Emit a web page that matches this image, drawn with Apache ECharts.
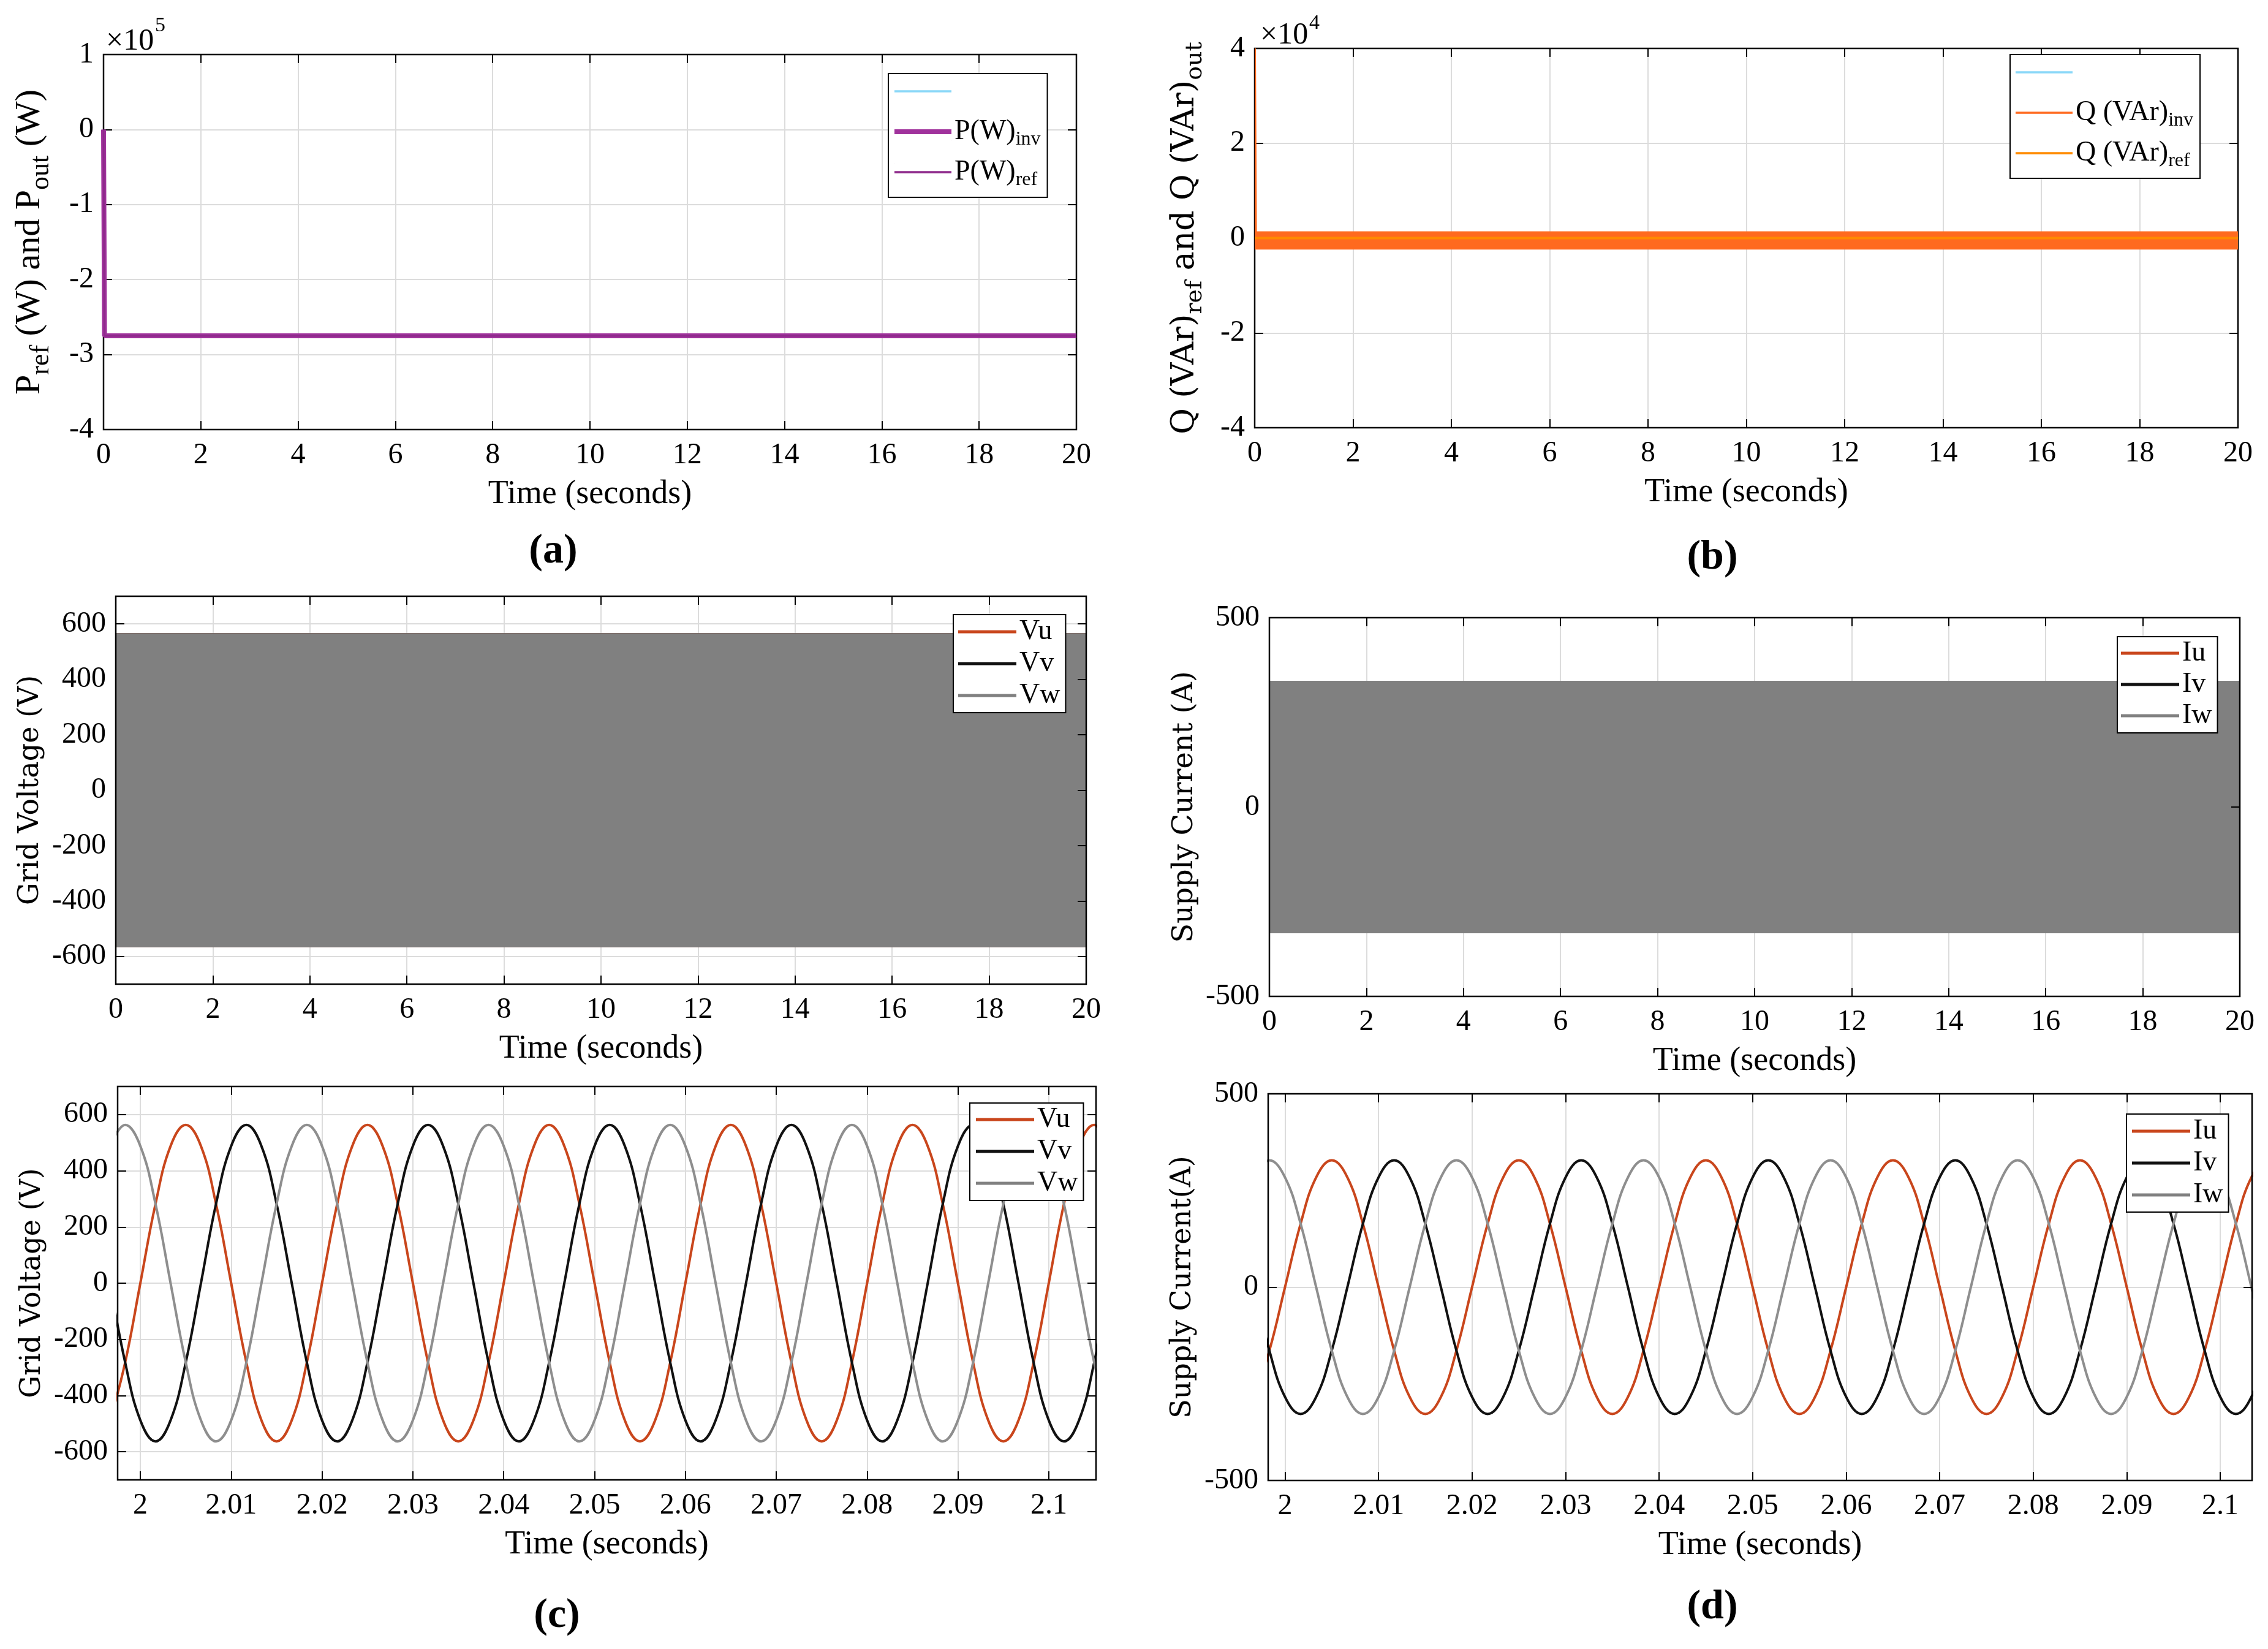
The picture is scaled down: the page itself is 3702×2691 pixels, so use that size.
<!DOCTYPE html>
<html>
<head>
<meta charset="UTF-8">
<title>Inverter power, grid voltage and supply current</title>
<script src="https://cdn.jsdelivr.net/npm/echarts@6/dist/echarts.min.js"></script>
<style>
  html, body { margin: 0; padding: 0; background: #fff; }
  #chart { width: 3702px; height: 2691px; }
</style>
</head>
<body>
<div id="chart"></div>
<script>
// (a) active power, W
var pTime = [0, 0.02, 20];
var pBlank = [0, -275000, -275000];
var pInv = [0, -275000, -275000];
var pRef = [0, -275000, -275000];

// (b) reactive power, VAr (inverter output is a thin noisy band)
var qTime = [0, 0.02, 20];
var qBlank = [0, 0, 0];
var qInvUpper = [40000, 1150, 1150];
var qInvLower = [40000, -2150, -2150];
var qRef = [0, 0, 0];

// 0-20 s views: envelope of the 50 Hz phases
var bandTime = [0, 20];
var vUpper = [562, 562];
var vLower = [-562, -562];
var iUpper = [330, 330];
var iLower = [-330, -330];

// zoomed views around 2.0-2.1 s, read every 30 degrees
var tWave = [1.99667, 1.99833, 2.00000, 2.00167, 2.00333, 2.00500, 2.00667, 2.00833, 2.01000, 2.01167,
             2.01333, 2.01500, 2.01667, 2.01833, 2.02000, 2.02167, 2.02333, 2.02500, 2.02667, 2.02833,
             2.03000, 2.03167, 2.03333, 2.03500, 2.03667, 2.03833, 2.04000, 2.04167, 2.04333, 2.04500,
             2.04667, 2.04833, 2.05000, 2.05167, 2.05333, 2.05500, 2.05667, 2.05833, 2.06000, 2.06167,
             2.06333, 2.06500, 2.06667, 2.06833, 2.07000, 2.07167, 2.07333, 2.07500, 2.07667, 2.07833,
             2.08000, 2.08167, 2.08333, 2.08500, 2.08667, 2.08833, 2.09000, 2.09167, 2.09333, 2.09500,
             2.09667, 2.09833, 2.10000, 2.10167, 2.10333, 2.10500, 2.10667];
var vu = [-488, -282, 0, 282, 488, 563, 488, 282, 0, -282, -488, -563,
          -488, -282, 0, 282, 488, 563, 488, 282, 0, -282, -488, -563,
          -488, -282, 0, 282, 488, 563, 488, 282, 0, -282, -488, -563,
          -488, -282, 0, 282, 488, 563, 488, 282, 0, -282, -488, -563,
          -488, -282, 0, 282, 488, 563, 488, 282, 0, -282, -488, -563,
          -488, -282, 0, 282, 488, 563, 488];
var vv = [0, -282, -488, -563, -488, -282, 0, 282, 488, 563, 488, 282,
          0, -282, -488, -563, -488, -282, 0, 282, 488, 563, 488, 282,
          0, -282, -488, -563, -488, -282, 0, 282, 488, 563, 488, 282,
          0, -282, -488, -563, -488, -282, 0, 282, 488, 563, 488, 282,
          0, -282, -488, -563, -488, -282, 0, 282, 488, 563, 488, 282,
          0, -282, -488, -563, -488, -282, 0];
var vw = [488, 563, 488, 282, 0, -282, -488, -563, -488, -282, 0, 282,
          488, 563, 488, 282, 0, -282, -488, -563, -488, -282, 0, 282,
          488, 563, 488, 282, 0, -282, -488, -563, -488, -282, 0, 282,
          488, 563, 488, 282, 0, -282, -488, -563, -488, -282, 0, 282,
          488, 563, 488, 282, 0, -282, -488, -563, -488, -282, 0, 282,
          488, 563, 488, 282, 0, -282, -488];
var iu = [-284, -164, 0, 164, 284, 328, 284, 164, 0, -164, -284, -328,
          -284, -164, 0, 164, 284, 328, 284, 164, 0, -164, -284, -328,
          -284, -164, 0, 164, 284, 328, 284, 164, 0, -164, -284, -328,
          -284, -164, 0, 164, 284, 328, 284, 164, 0, -164, -284, -328,
          -284, -164, 0, 164, 284, 328, 284, 164, 0, -164, -284, -328,
          -284, -164, 0, 164, 284, 328, 284];
var iv = [0, -164, -284, -328, -284, -164, 0, 164, 284, 328, 284, 164,
          0, -164, -284, -328, -284, -164, 0, 164, 284, 328, 284, 164,
          0, -164, -284, -328, -284, -164, 0, 164, 284, 328, 284, 164,
          0, -164, -284, -328, -284, -164, 0, 164, 284, 328, 284, 164,
          0, -164, -284, -328, -284, -164, 0, 164, 284, 328, 284, 164,
          0, -164, -284, -328, -284, -164, 0];
var iw = [284, 328, 284, 164, 0, -164, -284, -328, -284, -164, 0, 164,
          284, 328, 284, 164, 0, -164, -284, -328, -284, -164, 0, 164,
          284, 328, 284, 164, 0, -164, -284, -328, -284, -164, 0, 164,
          284, 328, 284, 164, 0, -164, -284, -328, -284, -164, 0, 164,
          284, 328, 284, 164, 0, -164, -284, -328, -284, -164, 0, 164,
          284, 328, 284, 164, 0, -164, -284];

var FONT = 'Liberation Serif';
var WIDE = 'DejaVu Serif';
var C_U = '#c9461c', C_V = '#111111', C_W = '#8e8e8e', C_BAND = '#808080';
var SMOOTH = 0.42;

var chart = echarts.init(document.getElementById('chart'));

var option = {
    animation: false,
    backgroundColor: '#fff',
    textStyle: { fontFamily: FONT, color: '#000' },
    grid: [], xAxis: [], yAxis: [], legend: [], series: [], graphic: []
};

function scaleOf(ax, s) {
    ax.min = s.min;
    ax.max = s.max;
    if (s.interval) ax.interval = s.interval;
    if (s.splitNumber) ax.splitNumber = s.splitNumber;
    return ax;
}

function addPanel(p) {
    var gi = option.grid.length;
    option.grid.push({
        left: p.box[0], top: p.box[1], width: p.box[2], height: p.box[3],
        show: true, borderColor: '#000', borderWidth: 2.5,
        backgroundColor: 'rgba(0,0,0,0)', z: 10
    });
    var tick = { show: true, inside: true, length: 14, lineStyle: { color: '#000', width: 2 } };
    var split = { show: true, lineStyle: { color: '#dcdcdc', width: 2 } };
    var noLine = { show: false, onZero: false };

    option.xAxis.push(scaleOf({
        type: 'value', gridIndex: gi, position: 'bottom',
        name: 'Time (seconds)', nameLocation: 'middle', nameGap: 79,
        nameTextStyle: { fontFamily: FONT, fontSize: 54, lineHeight: 54, color: '#000' },
        axisLine: noLine, axisTick: tick, splitLine: split,
        axisLabel: {
            fontFamily: FONT, fontSize: 48, color: '#000', margin: 18,
            formatter: p.x.fmt, showMinLabel: p.x.edge, showMaxLabel: p.x.edge
        }
    }, p.x));
    option.xAxis.push(scaleOf({
        type: 'value', gridIndex: gi, position: 'top', z: 10,
        axisLine: noLine, axisTick: tick,
        splitLine: { show: false }, axisLabel: { show: false }
    }, p.x));

    option.yAxis.push(scaleOf({
        type: 'value', gridIndex: gi, position: 'left',
        name: p.y.name, nameLocation: 'middle', nameRotate: 90, nameGap: p.y.gap,
        nameTextStyle: p.y.nameStyle,
        axisLine: noLine, axisTick: tick, splitLine: split,
        axisLabel: {
            fontFamily: FONT, fontSize: 48, color: '#000', margin: 16,
            formatter: p.y.fmt, showMinLabel: p.y.edge, showMaxLabel: p.y.edge
        }
    }, p.y));
    option.yAxis.push(scaleOf({
        type: 'value', gridIndex: gi, position: 'right', z: 10,
        axisLine: noLine, axisTick: tick,
        splitLine: { show: false }, axisLabel: { show: false }
    }, p.y));
    return gi;
}

function pairs(xs, ys) {
    return xs.map(function (x, i) { return [x, ys[i]]; });
}

function line(gi, name, xs, ys, color, width, smooth, z) {
    option.series.push({
        type: 'line', name: name, xAxisIndex: 2 * gi, yAxisIndex: 2 * gi,
        data: pairs(xs, ys), symbol: 'none', showSymbol: false,
        smooth: smooth || false, color: color, z: z || 2,
        lineStyle: { color: color, width: width }
    });
}

// filled band between a lower and an upper envelope, placed with the axis scales
function band(gi, name, xs, lower, upper, color, z) {
    option.series.push({
        type: 'custom', name: name, xAxisIndex: 2 * gi, yAxisIndex: 2 * gi,
        color: color, itemStyle: { color: color }, clip: true, z: z || 2,
        data: xs.map(function (x, i) { return [x, lower[i], upper[i]]; }),
        encode: { x: 0, y: [1, 2] },
        renderItem: function (params, api) {
            var i = params.dataIndex;
            if (i >= xs.length - 1) return null;
            var pts = [
                api.coord([xs[i], upper[i]]), api.coord([xs[i + 1], upper[i + 1]]),
                api.coord([xs[i + 1], lower[i + 1]]), api.coord([xs[i], lower[i]])
            ];
            return {
                type: 'polygon', shape: { points: pts },
                style: { fill: color, stroke: color, lineWidth: 4 }
            };
        }
    });
}

function legendBox(names, left, top, padding, gap, extra) {
    var lg = {
        data: names, left: left, top: top, orient: 'vertical',
        padding: padding, itemGap: gap, itemWidth: 95, itemHeight: 5, icon: 'rect',
        backgroundColor: '#fff', borderColor: '#000', borderWidth: 2,
        selectedMode: false, z: 12,
        textStyle: { fontFamily: FONT, fontSize: 46, lineHeight: 46, color: '#000' }
    };
    for (var k in extra) lg[k] = extra[k];
    option.legend.push(lg);
}

var longX = { min: 0, max: 20, interval: 2, edge: true, fmt: function (v) { return String(v); } };
var fmtT = function (v) { return String(parseFloat(v.toFixed(3))); };
var wideName = { fontFamily: WIDE, fontSize: 46, lineHeight: 46, color: '#000' };

// ---------- (a) ----------
var ga = addPanel({
    box: [169, 89, 1588, 612],
    x: longX,
    y: {
        min: -400000, max: 100000, interval: 100000, edge: true,
        fmt: function (v) { return String(v / 100000); },
        name: '{m|P}{s|ref}{m| (W) and P}{s|out}{m| (W)}', gap: 80,
        nameStyle: {
            color: '#000',
            rich: {
                m: { fontFamily: FONT, fontSize: 58, lineHeight: 80, color: '#000' },
                s: { fontFamily: FONT, fontSize: 44, lineHeight: 44, verticalAlign: 'bottom', color: '#000' }
            }
        }
    }
});
line(ga, '\u200b', pTime, pBlank, '#8ad8f8', 3);
line(ga, 'P_inv', pTime, pInv, '#a0329c', 8, false, 11);
line(ga, 'P_ref', pTime, pRef, '#8e2a8b', 3, false, 11);

// ---------- (b) ----------
var gb = addPanel({
    box: [2048, 79, 1605, 619],
    x: longX,
    y: {
        min: -40000, max: 40000, interval: 20000, edge: true,
        fmt: function (v) { return String(v / 10000); },
        name: '{m|Q (VAr)}{s|ref}{m| and Q (VAr)}{s|out}', gap: 78,
        nameStyle: {
            color: '#000',
            rich: {
                m: { fontFamily: WIDE, fontSize: 52, lineHeight: 72, color: '#000' },
                s: { fontFamily: WIDE, fontSize: 38, lineHeight: 38, verticalAlign: 'bottom', color: '#000' }
            }
        }
    }
});
line(gb, '\u200b\u200b', qTime, qBlank, '#8ad8f8', 3);
band(gb, 'Q_inv', qTime, qInvLower, qInvUpper, '#ff6a1f', 11);
line(gb, 'Q_ref', qTime, qRef, '#ff8a00', 4, false, 11);

// ---------- middle left: grid voltage 0-20 s ----------
var gc1 = addPanel({
    box: [189, 973, 1584, 633],
    x: longX,
    y: { min: -700, max: 700, splitNumber: 7, edge: false, name: 'Grid Voltage (V)', gap: 116, nameStyle: wideName }
});
band(gc1, 'Vu', bandTime, vLower, vUpper, C_U);
band(gc1, 'Vv', bandTime, vLower, vUpper, C_V);
band(gc1, 'Vw', bandTime, vLower, vUpper, C_BAND);

// ---------- middle right: supply current 0-20 s ----------
var gd1 = addPanel({
    box: [2072, 1008, 1584, 618],
    x: longX,
    y: { min: -500, max: 500, interval: 500, edge: true, name: 'Supply Current (A)', gap: 115, nameStyle: wideName }
});
band(gd1, 'Iu', bandTime, iLower, iUpper, C_U);
band(gd1, 'Iv', bandTime, iLower, iUpper, C_V);
band(gd1, 'Iw', bandTime, iLower, iUpper, C_BAND);

// ---------- (c) grid voltage, zoomed ----------
var gc = addPanel({
    box: [192, 1773, 1597, 642],
    x: { min: 1.9975, max: 2.1052, splitNumber: 10, edge: false, fmt: fmtT },
    y: { min: -700, max: 700, splitNumber: 7, edge: false, name: 'Grid Voltage (V)', gap: 116, nameStyle: wideName }
});
line(gc, 'Vu', tWave, vu, C_U, 4, SMOOTH);
line(gc, 'Vv', tWave, vv, C_V, 4, SMOOTH);
line(gc, 'Vw', tWave, vw, C_W, 4, SMOOTH);

// ---------- (d) supply current, zoomed ----------
var gd = addPanel({
    box: [2070, 1785, 1606, 631],
    x: { min: 1.9982, max: 2.1034, splitNumber: 10, edge: false, fmt: fmtT },
    y: { min: -500, max: 500, interval: 500, edge: true, name: 'Supply Current(A)', gap: 116, nameStyle: wideName }
});
line(gd, 'Iu', tWave, iu, C_U, 4, SMOOTH);
line(gd, 'Iv', tWave, iv, C_V, 4, SMOOTH);
line(gd, 'Iw', tWave, iw, C_W, 4, SMOOTH);

// ---------- legends ----------
var thinIcon = 'path://M0,0h0.2v0.2h-0.2zM0,13.2h93v3.6h-93zM92.8,29.8h0.2v0.2h-0.2z';
var thickIcon = 'path://M0,0h0.2v0.2h-0.2zM0,11h93v8h-93zM92.8,29.8h0.2v0.2h-0.2z';
var subRich = {
    m: { fontFamily: FONT, fontSize: 46, lineHeight: 58, color: '#000' },
    s: { fontFamily: FONT, fontSize: 32, lineHeight: 32, verticalAlign: 'bottom', color: '#000' }
};
var subLabels = {
    '\u200b': '{m|\u200b}', 'P_inv': '{m|P(W)}{s|inv}', 'P_ref': '{m|P(W)}{s|ref}',
    '\u200b\u200b': '{m|\u200b}', 'Q_inv': '{m|Q (VAr)}{s|inv}', 'Q_ref': '{m|Q (VAr)}{s|ref}'
};
var subLegend = {
    itemWidth: 93, itemHeight: 30,
    formatter: function (n) { return subLabels[n]; },
    textStyle: { fontFamily: FONT, fontSize: 46, lineHeight: 58, color: '#000', rich: subRich }
};
legendBox([{ name: '\u200b', icon: thinIcon }, { name: 'P_inv', icon: thickIcon }, { name: 'P_ref', icon: thinIcon }],
    1450, 120, [0, 11, 12, 10], 8, subLegend);
legendBox([{ name: '\u200b\u200b', icon: thinIcon }, { name: 'Q_inv', icon: thinIcon }, { name: 'Q_ref', icon: thinIcon }],
    3281, 89, [0, 11, 12, 9], 8, subLegend);
legendBox(['Vu', 'Vv', 'Vw'], 1556, 1003, [5, 9, 5, 8], 6, {});
legendBox(['Iu', 'Iv', 'Iw'], 3456, 1039, [4, 9, 5, 6], 5, {});
legendBox(['Vu', 'Vv', 'Vw'], 1583, 1800, [4, 9, 5, 10], 6, {});
legendBox(['Iu', 'Iv', 'Iw'], 3471, 1818, [5, 9, 5, 9], 6, {});

// ---------- exponent labels and panel letters ----------
function txt(x, y, s, size, weight, align) {
    option.graphic.push({
        type: 'text', x: x, y: y, z: 20,
        style: {
            text: s, fontFamily: FONT, fontSize: size, fontWeight: weight || 'normal',
            fill: '#000', align: align || 'left', verticalAlign: 'middle'
        }
    });
}
txt(173, 68, '\u00d710', 50);
txt(253, 42, '5', 34);
txt(2057, 58, '\u00d710', 50);
txt(2137, 38, '4', 34);
txt(903, 900, '(a)', 68, 'bold', 'center');
txt(2795, 910, '(b)', 68, 'bold', 'center');
txt(909, 2637, '(c)', 68, 'bold', 'center');
txt(2795, 2623, '(d)', 68, 'bold', 'center');

chart.setOption(option);
</script>
</body>
</html>
